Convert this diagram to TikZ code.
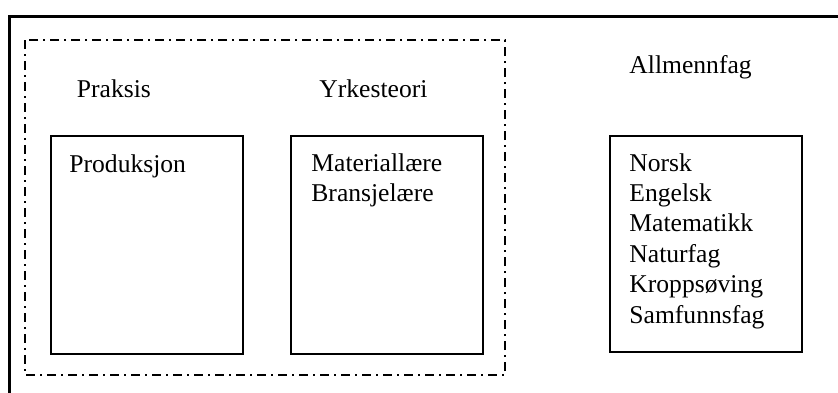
\documentclass[tikz,border=0pt]{standalone}
\usepackage{fontspec}
\setmainfont{Liberation Serif}
\usetikzlibrary{positioning}
\tikzset{
every picture/.style={x=0.5pt, y=-0.5pt},
fagbox/.style={draw, rectangle, line width=1pt, inner sep=0pt, anchor=north west,
               minimum width=96pt, minimum height=109pt},
fagtext/.style={anchor=base west, inner sep=0pt, align=left,
                font=\fontsize{12.8}{15.2}\selectfont},
yrkesfag/.style={draw, line width=1pt,
                 dash pattern=on 4.5pt off 2.5pt on 1pt off 2.5pt},
ramme/.style={draw, line width=1.5pt},
}

\begin{document}
\begin{tikzpicture}
    \useasboundingbox (0,0) rectangle (838,392);
    \clip (0,0) rectangle (838,392);

    % outer frame (runs off the page at right and bottom)
    \draw[ramme] (9,16) rectangle (860,420);

    % dash-dot frame round the vocational part
    \draw[yrkesfag] (25,40) rectangle (505,375);

    % headings
    \node[fagtext] (praksis)    at (76.5,97.5) {Praksis};
    \node[fagtext] (yrkesteori) at (319,97.5)  {Yrkesteori};
    \node[fagtext] (allmenn)    at (629,73)    {Allmennfag};

    % boxes
    \node[fagbox] (box1) at (50,135)  { };
    \node[fagbox] (box2) at (290,135) { };
    \node[fagbox, minimum height=108pt] (box3) at (609,135) { };

    % box contents (base anchor sits on the last line)
    \node[fagtext] (prod)  at (69,172)    {Produksjon};
    \node[fagtext] (teori) at (311,201.4) {Materiallære\\Bransjelære};
    \node[fagtext] (fag)   at (629,323)   {Norsk\\Engelsk\\Matematikk\\Naturfag\\Kroppsøving\\Samfunnsfag};

\end{tikzpicture}
\end{document}
